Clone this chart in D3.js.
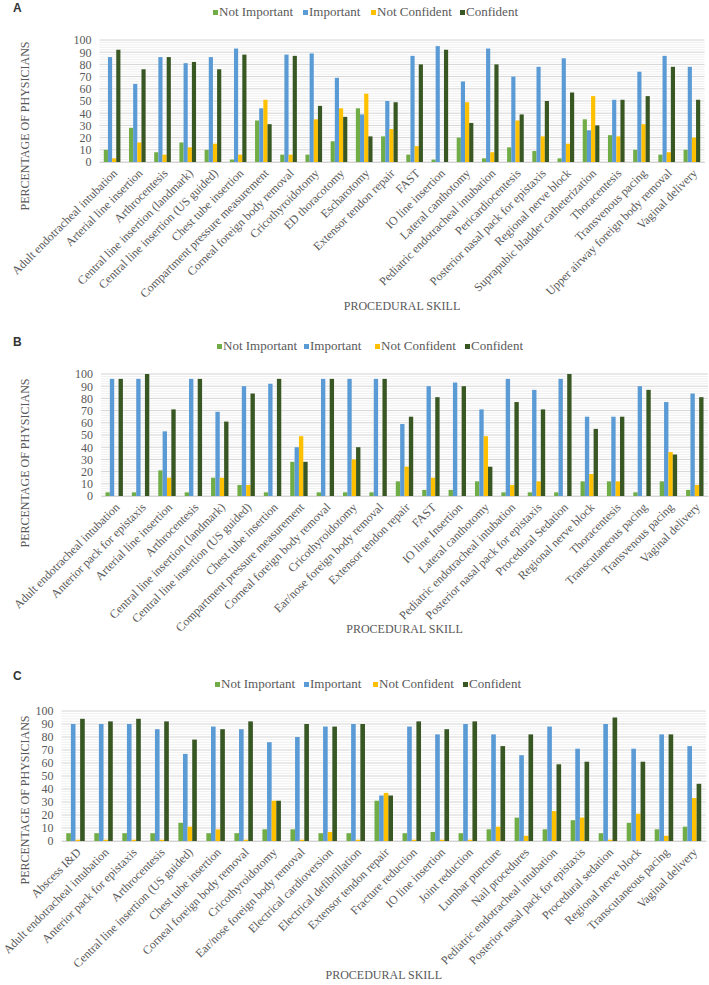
<!DOCTYPE html>
<html>
<head>
<meta charset="utf-8">
<script src="https://cdn.jsdelivr.net/npm/d3@7/dist/d3.min.js"></script>
<style>
  html, body { margin: 0; padding: 0; background: #fff; }
  svg { display: block; }
  svg text { font-family: "Liberation Serif", "DejaVu Serif", serif; }
</style>
</head>
<body>
<svg id="chart" width="709" height="985"></svg>
<script>
// ---------- DATA ----------
const seriesNames = ["Not Important", "Important", "Not Confident", "Confident"];
const yTickValues = [0, 10, 20, 30, 40, 50, 60, 70, 80, 90, 100];

const categoriesA = ["Adult endotracheal intubation", "Arterial line insertion", "Arthrocentesis",
  "Central line insertion (landmark)", "Central line insertion (US guided)", "Chest tube insertion",
  "Compartment pressure measurement", "Corneal foreign body removal", "Cricothyroidotomy",
  "ED thoracotomy", "Escharotomy", "Extensor tendon repair", "FAST", "IO line insertion",
  "Lateral canthotomy", "Pediatric endotracheal intubation", "Pericardiocentesis",
  "Posterior nasal pack for epistaxis", "Regional nerve block", "Suprapubic bladder catheterization",
  "Thoracentesis", "Transvenous pacing", "Upper airway foreign body removal", "Vaginal delivery"];
const notImportantA = [10, 28, 8, 16, 10, 2, 34, 6, 6, 17, 44, 21, 6, 2, 20, 3, 12, 9, 3, 35, 22, 10, 6, 10];
const importantA    = [86, 64, 86, 81, 86, 93, 44, 88, 89, 69, 39, 50, 87, 95, 66, 93, 70, 78, 85, 26, 51, 74, 87, 78];
const notConfidentA = [3, 16, 6, 12, 15, 6, 51, 6, 35, 44, 56, 27, 13, 0, 49, 8, 34, 21, 15, 54, 21, 31, 8, 20];
const confidentA    = [92, 76, 86, 82, 76, 88, 31, 87, 46, 37, 21, 49, 80, 92, 32, 80, 39, 50, 57, 30, 51, 54, 78, 51];

const categoriesB = ["Adult endotracheal intubation", "Anterior pack for epistaxis", "Arterial line insertion",
  "Arthrocentesis", "Central line insertion (landmark)", "Central line insertion (US guided)",
  "Chest tube insertion", "Compartment pressure measurement", "Corneal foreign body removal",
  "Cricothyroidotomy", "Ear/nose foreign body removal", "Extensor tendon repair", "FAST",
  "IO line Insertion", "Lateral canthotomy", "Pediatric endotracheal intubation",
  "Posterior nasal pack for epistaxis", "Procedural Sedation", "Regional nerve block",
  "Thoracentesis", "Transcutaneous pacing", "Transvenous pacing", "Vaginal delivery"];
const notImportantB = [3, 3, 21, 3, 15, 9, 3, 28, 3, 3, 3, 12, 5, 5, 12, 3, 3, 3, 12, 12, 3, 12, 5];
const importantB    = [96, 96, 53, 96, 69, 90, 92, 40, 96, 96, 96, 59, 90, 93, 71, 96, 87, 96, 65, 65, 90, 77, 84];
const notConfidentB = [0, 0, 15, 0, 15, 9, 0, 49, 0, 30, 0, 24, 15, 0, 49, 9, 12, 0, 18, 12, 0, 36, 9];
const confidentB    = [96, 100, 71, 96, 61, 84, 96, 28, 96, 40, 96, 65, 81, 90, 24, 77, 71, 100, 55, 65, 87, 34, 81];

const categoriesC = ["Abscess I&D", "Adult endotracheal intubation", "Anterior pack for epistaxis",
  "Arthrocentesis", "Central line insertion (US guided)", "Chest tube insertion",
  "Corneal foreign body removal", "Cricothyroidotomy", "Ear/nose foreign body removal",
  "Electrical cardioversion", "Electrical defibrillation", "Extensor tendon repair",
  "Fracture reduction", "IO line insertion", "Joint reduction", "Lumbar puncture",
  "Nail procedures", "Pediatric endotracheal intubation", "Posterior nasal pack for epistaxis",
  "Procedural sedation", "Regional nerve block", "Transcutaneous pacing", "Vaginal delivery"];
const notImportantC = [6, 6, 6, 6, 14, 6, 6, 9, 9, 6, 6, 31, 6, 7, 6, 9, 18, 9, 16, 6, 14, 9, 11];
const importantC    = [90, 90, 90, 86, 67, 88, 86, 76, 80, 88, 90, 35, 88, 82, 90, 82, 66, 88, 71, 90, 71, 82, 73];
const notConfidentC = [1, 1, 1, 1, 11, 9, 1, 31, 1, 7, 1, 37, 1, 1, 1, 11, 4, 23, 18, 1, 21, 4, 33];
const confidentC    = [94, 92, 94, 92, 78, 86, 92, 31, 90, 88, 90, 35, 92, 86, 92, 73, 82, 59, 61, 95, 61, 82, 44];

// ---------- STYLE / LAYOUT ----------
const colors = ["#70ad47", "#5b9bd5", "#ffc000", "#385723"];
const textColor = "#595959";
const serif = "Liberation Serif, DejaVu Serif, serif";

const panels = [
  { letter: "A", cats: categoriesA, series: [notImportantA, importantA, notConfidentA, confidentA],
    letterY: 9, legendY: 13, legendX: [213, 303, 371, 460],
    top: 40, bottom: 162, left: 99.5, right: 704.5, yTitleCenter: 126, xTitleY: 307 },
  { letter: "B", cats: categoriesB, series: [notImportantB, importantB, notConfidentB, confidentB],
    letterY: 343, legendY: 347, legendX: [217, 304, 375, 465],
    top: 374, bottom: 496, left: 101, right: 708, yTitleCenter: 463, xTitleY: 630 },
  { letter: "C", cats: categoriesC, series: [notImportantC, importantC, notConfidentC, confidentC],
    letterY: 677, legendY: 685, legendX: [215, 304, 373, 463],
    top: 711, bottom: 841, left: 61.5, right: 706, yTitleCenter: 800, xTitleY: 976 }
];

const svg = d3.select("#chart");

panels.forEach(p => {
  const g = svg.append("g");
  const x = d3.scaleBand().domain(p.cats).range([p.left, p.right]).paddingInner(0.34).paddingOuter(0.17);
  const xs = d3.scaleBand().domain(d3.range(seriesNames.length)).range([0, x.bandwidth()]).padding(0);
  const y = d3.scaleLinear().domain([0, 100]).range([p.bottom, p.top]);

  // minor gridlines
  g.append("g").selectAll("line").data(d3.range(0, 101, 2).filter(v => v % 10 !== 0))
    .join("line")
    .attr("x1", p.left).attr("x2", p.right)
    .attr("y1", d => y(d)).attr("y2", d => y(d))
    .attr("stroke", "#ebebeb").attr("stroke-width", 0.8);
  // major gridlines
  g.append("g").selectAll("line").data(yTickValues)
    .join("line")
    .attr("x1", p.left).attr("x2", p.right)
    .attr("y1", d => y(d)).attr("y2", d => y(d))
    .attr("stroke", "#d4d4d4").attr("stroke-width", 1);

  // y axis
  const ya = g.append("g").attr("transform", `translate(${p.left - 7},0)`)
    .call(d3.axisLeft(y).tickValues(yTickValues).tickSize(0).tickPadding(1));
  ya.attr("font-family", serif).attr("font-size", 12);
  ya.select(".domain").remove();
  ya.selectAll("text").attr("fill", textColor).attr("font-family", serif).attr("font-size", 12);

  // bars
  p.series.forEach((vals, si) => {
    g.append("g").selectAll("rect").data(p.cats.map((c, i) => ({ c, v: vals[i] })))
      .join("rect")
      .attr("x", d => x(d.c) + xs(si))
      .attr("width", xs.bandwidth())
      .attr("y", d => y(d.v))
      .attr("height", d => y(0) - y(d.v))
      .attr("fill", colors[si]);
  });

  // x axis labels
  const xa = g.append("g").attr("transform", `translate(0,${p.bottom})`)
    .call(d3.axisBottom(x).tickSize(0).tickPadding(0));
  xa.attr("font-family", serif).attr("font-size", 12);
  xa.select(".domain").attr("stroke", "#d4d4d4");
  xa.selectAll("text")
    .attr("fill", textColor).attr("font-family", serif).attr("font-size", 12)
    .attr("text-anchor", "end")
    .attr("dy", null).attr("y", null)
    .attr("transform", "translate(6,12) rotate(-45)");

  // panel letter
  svg.append("text").attr("x", 13).attr("y", p.letterY).attr("dominant-baseline", "middle")
    .attr("font-family", "Liberation Sans, Arial, sans-serif").attr("font-weight", "bold")
    .attr("font-size", 12).attr("fill", "#333")
    .style("font-family", "Liberation Sans, Arial, sans-serif").text(p.letter);

  // legend
  seriesNames.forEach((name, si) => {
    svg.append("rect").attr("x", p.legendX[si]).attr("y", p.legendY - 3).attr("width", 5).attr("height", 5)
      .attr("fill", colors[si]);
    svg.append("text").attr("x", p.legendX[si] + 6).attr("y", p.legendY).attr("dominant-baseline", "middle")
      .attr("font-family", serif).attr("font-size", 13).attr("fill", textColor).text(name);
  });

  // y title
  svg.append("text")
    .attr("transform", `translate(26,${p.yTitleCenter}) rotate(-90)`)
    .attr("text-anchor", "middle").attr("dominant-baseline", "middle")
    .attr("font-family", serif).attr("font-size", 12).attr("fill", textColor)
    .text("PERCENTAGE OF PHYSICIANS");

  // x title
  svg.append("text")
    .attr("x", (p.left + p.right) / 2).attr("y", p.xTitleY).attr("dominant-baseline", "middle")
    .attr("text-anchor", "middle")
    .attr("font-family", serif).attr("font-size", 12).attr("fill", textColor)
    .text("PROCEDURAL SKILL");
});
</script>
</body>
</html>
